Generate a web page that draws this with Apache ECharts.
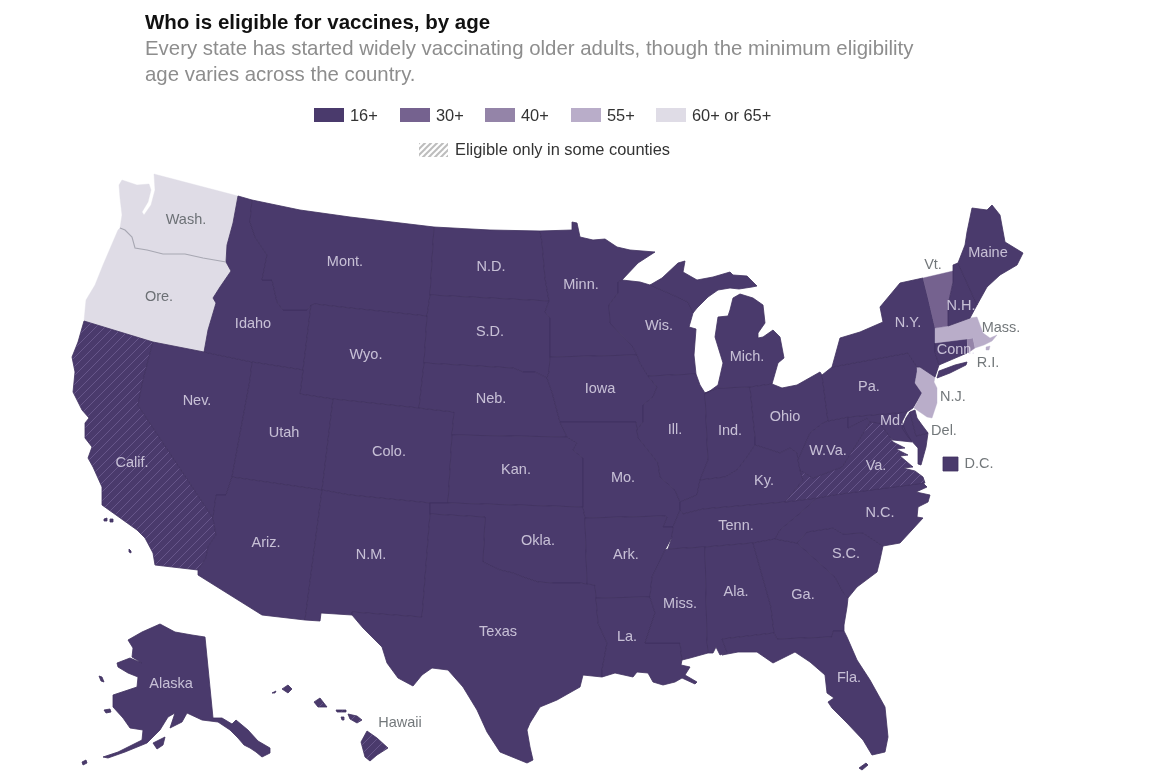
<!DOCTYPE html>
<html><head><meta charset="utf-8">
<style>html,body{margin:0;padding:0;background:#fff}#c{width:1151px;height:773px}</style>
<script src="https://cdn.jsdelivr.net/npm/echarts@6/dist/echarts.min.js"></script>
</head><body><div id="c"></div>
<script>
// ---- data ----
const ageBuckets = ['16+','30+','40+','55+','60+ or 65+'];
const stateNames = ['Washington','Oregon','California','Nevada','Idaho','Montana','Wyoming','Utah','Arizona','Colorado','New Mexico','North Dakota','South Dakota','Nebraska','Kansas','Oklahoma','Texas','Minnesota','Iowa','Missouri','Arkansas','Louisiana','Wisconsin','Illinois','Indiana','Michigan','Ohio','Kentucky','Tennessee','Mississippi','Alabama','Georgia','Florida','South Carolina','North Carolina','Virginia','West Virginia','Maryland','Delaware','Pennsylvania','New Jersey','New York','Connecticut','Rhode Island','Massachusetts','Vermont','New Hampshire','Maine','Alaska','Hawaii','District of Columbia'];
const stateAges  = ['60+ or 65+','60+ or 65+','16+','16+','16+','16+','16+','16+','16+','16+','16+','16+','16+','16+','16+','16+','16+','16+','16+','16+','16+','16+','16+','16+','16+','16+','16+','16+','16+','16+','16+','16+','16+','16+','16+','16+','16+','16+','16+','16+','55+','16+','16+','40+','55+','30+','16+','16+','16+','16+','16+'];
const someCounties = ['California','Virginia','Hawaii'];
const labelTexts = ['Wash.','Ore.','Calif.','Nev.','Idaho','Mont.','Wyo.','Utah','Ariz.','Colo.','N.M.','N.D.','S.D.','Neb.','Kan.','Okla.','Texas','Minn.','Iowa','Mo.','Ark.','La.','Wis.','Ill.','Ind.','Mich.','Ohio','Ky.','Tenn.','Miss.','Ala.','Ga.','Fla.','S.C.','N.C.','Va.','W.Va.','Md.','Del.','Pa.','N.J.','N.Y.','Conn.','R.I.','Mass.','Vt.','N.H.','Maine','Alaska','Hawaii','D.C.'];
const outsideLabels = ['Wash.','Ore.','Del.','N.J.','R.I.','Mass.','Vt.','Hawaii','D.C.'];
const bucketColors = ['#4a3a6c','#75628f','#9484a8','#b9adc9','#dfdce6'];

// ---- map outline (shape of the base map, in picture units) ----
const WA_OR=[[120,228],[125,230],[132,237],[135,248],[147,250],[163,254],[185,254],[203,258],[226,262]];
const ID_MT=[[252,200],[250,222],[255,237],[267,255],[262,280],[272,280],[277,302],[283,310],[307,310],[311,305],[315,304]];
const OK_TX=[[580,583],[553,583],[538,582],[523,577],[513,573],[500,570],[483,562]];
const shapes={
'Washington':[[[122,180],[119,185],[120,198],[122,215],...WA_OR,[227,245],[233,223],[238,196],[154,174],[155,190],[151,205],[144,215],[142,212],[148,202],[151,190],[149,184],[137,185]]],
'Oregon':[[...WA_OR,[231,271],[220,287],[213,298],[216,303],[208,330],[204,352],[153,342],[84,321],[86,300],[95,285],[103,265],[118,230]]],
'California':[[[84,321],[153,342],[143,380],[138,405],[213,518],[216,535],[208,547],[206,558],[198,570],[155,565],[153,553],[145,538],[137,530],[123,520],[102,505],[102,487],[93,467],[88,458],[92,447],[85,438],[85,423],[89,418],[82,410],[73,392],[75,372],[72,357],[78,342]],[[104,519],[107,518],[107,521],[104,521]],[[110,519],[113,519],[113,522],[110,522]],[[129,549],[131,551],[131,553],[129,552]]],
'Nevada':[[[153,342],[204,352],[252,362],[250,380],[232,477],[226,495],[216,495],[213,518],[138,405],[143,380]]],
'Idaho':[[[238,196],...ID_MT.slice(0,10),[303,370],[252,362],[204,352],[208,330],[216,303],[213,298],[220,287],[231,271],[226,262],[227,245],[233,223]]],
'Montana':[[...ID_MT,[350,308],[427,316],[430,295],[434,227],[350,217],[300,210]]],
'Wyoming':[[[311,305],[315,304],[350,308],[427,316],[424,363],[419,408],[333,399],[300,394],[303,370]]],
'Utah':[[[252,362],[303,370],[300,394],[333,399],[322,490],[232,477],[250,380]]],
'Arizona':[[[232,477],[322,490],[305,620],[262,615],[198,575],[198,570],[206,558],[208,547],[216,535],[213,518],[216,495],[226,495]]],
'Colorado':[[[333,399],[419,408],[454,412],[452,435],[448,503],[430,503],[350,495],[322,490]]],
'New Mexico':[[[322,490],[350,495],[430,503],[430,514],[422,617],[352,612],[352,615],[321,613],[320,621],[305,620]]],
'North Dakota':[[[434,227],[490,230],[540,231],[542,242],[545,278],[549,301],[430,295]]],
'South Dakota':[[[430,295],[549,301],[545,312],[550,318],[550,357],[549,372],[547,378],[535,372],[523,372],[513,368],[424,363],[427,316]]],
'Nebraska':[[[424,363],[513,368],[523,372],[535,372],[547,378],[552,392],[560,422],[567,437],[452,435],[454,412],[419,408]]],
'Kansas':[[[452,435],[567,437],[577,443],[573,450],[583,458],[583,507],[448,503]]],
'Oklahoma':[[[430,503],[448,503],[583,507],[585,518],[587,584],...OK_TX,[485,517],[430,514]]],
'Texas':[[[430,514],[485,517],...OK_TX.slice().reverse(),[587,584],[595,585],[596,598],[598,623],[607,643],[602,670],[602,677],[583,675],[580,687],[557,700],[540,707],[530,723],[527,730],[530,747],[533,760],[527,763],[500,752],[487,732],[477,710],[463,687],[448,670],[432,668],[422,675],[413,686],[398,678],[387,663],[382,647],[363,628],[352,615],[352,612],[422,617]]],
'Minnesota':[[[540,231],[572,230],[572,222],[577,223],[580,237],[593,240],[605,239],[617,247],[630,250],[655,252],[638,263],[622,280],[618,282],[618,293],[609,305],[610,323],[633,347],[637,355],[550,357],[550,318],[545,312],[549,301],[545,278],[542,242]]],
'Iowa':[[[550,357],[637,355],[640,363],[648,376],[657,387],[653,397],[643,405],[643,422],[637,430],[636,422],[560,422],[552,392],[547,378],[549,372]]],
'Missouri':[[[560,422],[636,422],[637,430],[638,438],[640,440],[652,455],[658,463],[660,477],[675,490],[680,502],[680,510],[673,527],[663,527],[667,517],[665,516],[585,518],[583,507],[583,458],[573,450],[577,443],[567,437]]],
'Arkansas':[[[585,518],[665,516],[667,517],[663,527],[673,527],[672,537],[665,550],[652,577],[650,597],[596,598],[595,585],[587,584]]],
'Louisiana':[[[596,598],[650,597],[655,613],[645,643],[680,643],[682,660],[681,665],[690,667],[685,675],[697,682],[695,684],[682,678],[675,682],[663,685],[653,682],[648,673],[637,672],[633,677],[615,673],[602,677],[602,670],[607,643],[598,623]]],
'Wisconsin':[[[622,280],[640,282],[650,285],[673,295],[688,302],[693,313],[689,327],[696,329],[694,355],[696,374],[648,376],[640,363],[637,355],[633,347],[610,323],[609,305],[618,293],[618,282]]],
'Illinois':[[[648,376],[696,374],[700,385],[705,393],[707,440],[708,460],[700,480],[697,495],[680,502],[675,490],[660,477],[658,463],[652,455],[640,440],[638,438],[637,430],[643,422],[643,405],[653,397],[657,387]]],
'Indiana':[[[705,393],[718,388],[750,387],[755,437],[755,445],[747,457],[737,470],[725,477],[700,480],[708,460],[707,440]]],
'Michigan':[[[650,285],[673,295],[688,302],[693,313],[697,308],[708,297],[718,290],[730,288],[739,289],[752,287],[757,286],[747,276],[733,275],[730,272],[713,277],[697,280],[683,272],[685,261],[678,263],[662,278]],[[705,393],[707,393],[718,385],[723,363],[715,337],[718,317],[728,316],[730,310],[733,298],[740,294],[753,298],[763,305],[765,323],[758,333],[758,338],[763,337],[773,330],[780,337],[784,358],[778,363],[772,384],[750,387],[718,388]]],
'Ohio':[[[750,387],[772,384],[782,388],[797,385],[820,372],[822,375],[828,421],[823,423],[810,433],[798,460],[797,453],[790,448],[780,453],[755,445],[755,437]]],
'Kentucky':[[[683,514],[703,509],[785,502],[803,480],[800,470],[798,460],[797,453],[790,448],[780,453],[755,445],[747,457],[737,470],[725,477],[700,480],[697,495],[680,502],[680,510]]],
'Tennessee':[[[683,514],[703,509],[785,502],[817,498],[798,515],[780,530],[775,539],[753,543],[705,547],[668,549],[672,537],[673,527],[680,510]]],
'Mississippi':[[[668,549],[705,547],[707,640],[708,653],[690,658],[682,660],[680,643],[645,643],[655,613],[650,597],[652,577],[665,550]]],
'Alabama':[[[705,547],[753,543],[771,607],[774,633],[722,639],[727,652],[720,655],[716,647],[713,653],[708,653],[707,640]]],
'Georgia':[[[753,543],[775,539],[797,543],[805,550],[835,577],[843,592],[848,598],[847,607],[844,625],[844,631],[833,631],[832,637],[777,639],[774,633],[771,607]]],
'Florida':[[[722,639],[774,633],[777,639],[832,637],[833,631],[844,631],[847,637],[857,660],[870,680],[885,707],[888,737],[885,752],[872,755],[863,740],[847,723],[842,718],[832,708],[828,702],[834,698],[827,693],[825,675],[810,662],[795,652],[773,663],[757,652],[738,652],[722,655],[727,652]],[[859,768],[866,763],[868,765],[862,770]]],
'South Carolina':[[[797,543],[807,532],[833,528],[843,534],[863,533],[883,546],[880,560],[877,572],[857,587],[848,598],[843,592],[835,577],[805,550]]],
'North Carolina':[[[775,539],[780,530],[798,515],[817,498],[833,495],[923,483],[927,487],[916,492],[930,495],[928,502],[918,507],[917,517],[923,518],[912,530],[900,543],[883,546],[863,533],[843,534],[833,528],[807,532],[797,543]]],
'Virginia':[[[785,502],[803,480],[800,470],[813,478],[842,467],[870,422],[880,423],[890,437],[893,442],[905,448],[896,449],[908,455],[900,456],[913,467],[903,468],[915,471],[923,477],[925,483],[833,495],[817,498]]],
'West Virginia':[[[828,421],[848,417],[848,428],[867,418],[870,422],[842,467],[813,478],[800,470],[798,460],[810,433],[823,423]]],
'Maryland':[[[848,417],[907,412],[902,422],[905,430],[912,442],[893,440],[890,437],[880,423],[870,422],[867,418],[848,428]],[[910,412],[916,436],[928,433],[926,447],[921,465],[918,464],[918,448],[908,437],[902,428],[906,418]]],
'Delaware':[[[910,412],[915,410],[917,418],[922,425],[928,433],[916,436]]],
'Pennsylvania':[[[822,375],[832,367],[908,353],[917,367],[917,372],[915,383],[922,393],[913,408],[907,412],[848,417],[828,421]]],
'New Jersey':[[[917,367],[920,367],[935,377],[934,382],[937,388],[937,403],[932,418],[927,417],[914,408],[922,393],[915,383],[917,372]]],
'New York':[[[832,367],[840,338],[860,332],[883,322],[880,307],[900,283],[923,278],[928,298],[935,328],[935,352],[939,365],[935,377],[920,367],[917,367],[908,353]],[[937,378],[939,371],[955,365],[967,362],[966,365],[950,373]]],
'Connecticut':[[[935,343],[967,339],[967,353],[939,365],[935,352]]],
'Rhode Island':[[[967,339],[973,338],[975,348],[968,353],[967,353]]],
'Massachusetts':[[[935,328],[948,326],[970,318],[977,317],[980,325],[983,333],[990,338],[997,335],[992,341],[984,345],[975,348],[973,338],[967,339],[935,343]],[[986,347],[990,346],[989,350],[986,350]]],
'Vermont':[[[923,278],[953,271],[953,282],[948,305],[948,326],[935,328],[928,298]]],
'New Hampshire':[[[953,271],[953,265],[958,263],[977,305],[970,318],[948,326],[948,305],[953,282]]],
'Maine':[[[958,263],[965,245],[967,232],[972,208],[987,210],[992,205],[1000,215],[1005,242],[1023,253],[1017,265],[1000,275],[987,287],[977,305]]],
'Alaska':[[[205,637],[213,718],[222,718],[232,724],[236,720],[248,730],[258,741],[270,748],[270,753],[262,757],[256,752],[250,748],[244,745],[238,738],[230,730],[218,722],[202,720],[187,713],[182,722],[170,728],[175,713],[168,717],[160,730],[147,743],[125,752],[108,758],[103,757],[118,752],[142,740],[143,730],[130,728],[123,718],[113,707],[113,695],[137,687],[138,677],[128,673],[118,667],[117,663],[130,658],[142,663],[132,657],[133,648],[128,640],[142,632],[160,624],[175,632],[192,635]],[[153,743],[165,737],[163,745],[157,749]],[[104,710],[110,709],[111,712],[106,713]],[[99,676],[102,677],[104,682],[101,681]],[[82,762],[86,760],[87,763],[83,765]]],
'Hawaii':[[[367,731],[377,738],[388,748],[377,755],[370,761],[365,757],[361,742]],[[348,714],[357,716],[362,720],[357,723],[350,719]],[[336,710],[346,710],[346,712],[337,712]],[[341,717],[344,717],[344,720],[342,720]],[[314,702],[320,698],[327,707],[318,707]],[[282,689],[288,685],[292,689],[288,693]],[[272,693],[276,691],[275,693]]],
'District of Columbia':[[[943,457],[958,457],[958,471],[943,471]]]
};
const labelAnchors={'Wash.':[186,220],'Ore.':[159,297],'Calif.':[132,463],'Nev.':[197,401],'Idaho':[253,324],'Mont.':[345,262],'Wyo.':[366,355],'Utah':[284,433],'Ariz.':[266,543],'Colo.':[389,452],'N.M.':[371,555],'N.D.':[491,267],'S.D.':[490,332],'Neb.':[491,399],'Kan.':[516,470],'Okla.':[538,541],'Texas':[498,632],'Minn.':[581,285],'Iowa':[600,389],'Mo.':[623,478],'Ark.':[626,555],'La.':[627,637],'Wis.':[659,326],'Ill.':[675,430],'Ind.':[730,431],'Mich.':[747,357],'Ohio':[785,417],'Ky.':[764,481],'Tenn.':[736,526],'Miss.':[680,604],'Ala.':[736,592],'Ga.':[803,595],'Fla.':[849,678],'S.C.':[846,554],'N.C.':[880,513],'Va.':[876,466],'W.Va.':[828,451],'Md.':[892,421],'Del.':[944,431],'Pa.':[869,387],'N.J.':[953,397],'N.Y.':[908,323],'Conn.':[956,350],'R.I.':[988,363],'Mass.':[1001,328],'Vt.':[933,265],'N.H.':[961,306],'Maine':[988,253],'Alaska':[171,684],'Hawaii':[400,723],'D.C.':[979,464]};

// ---- build ----
const flip=rings=>rings.map(r=>{const q=r.map(p=>[p[0],-p[1]]);q.push(q[0]);return [q];});
const geojson={type:'FeatureCollection',features:stateNames.map(n=>({type:'Feature',properties:{name:n},geometry:{type:'MultiPolygon',coordinates:flip(shapes[n])}}))};
echarts.registerMap('usa',geojson);

function hatch(bg,line,s,w){
  const c=document.createElement('canvas');c.width=c.height=s;
  const g=c.getContext('2d');
  if(bg){g.fillStyle=bg;g.fillRect(0,0,s,s);}
  g.strokeStyle=line;g.lineWidth=w;
  [[-s,s,s,-s],[0,s,s,0],[0,2*s,2*s,0]].forEach(a=>{g.beginPath();g.moveTo(a[0],a[1]);g.lineTo(a[2],a[3]);g.stroke();});
  return {image:c,repeat:'repeat'};
}
const regions=stateNames.map((n,i)=>{
  const base=bucketColors[ageBuckets.indexOf(stateAges[i])];
  const light=stateAges[i]!=='16+';
  return {name:n,itemStyle:{
    areaColor:someCounties.includes(n)?hatch(base,'#67568a',9,1):base,
    borderColor:light?base:'#40315f',borderWidth:light?0.4:0.8},
    emphasis:{disabled:true}};
});
const labels=labelTexts.map(t=>({name:t,value:labelAnchors[t].map((v,i)=>i?-v:v),
  label:{color:outsideLabels.includes(t)?'#4f5559':'#e6e1f0'}}));

const legendXs=[314,400,485,571,656];
const gfx=[];
ageBuckets.forEach((b,i)=>{
  gfx.push({type:'rect',left:legendXs[i],top:108,shape:{width:30,height:14},style:{fill:bucketColors[i]}});
  gfx.push({type:'text',left:legendXs[i]+36,top:108,style:{text:b,fill:'#333',font:'16.4px "Liberation Sans",sans-serif'}});
});
gfx.push({type:'rect',left:419,top:143,shape:{width:29,height:14},style:{fill:hatch('#fff','#bdbdbd',6,2)}});
gfx.push({type:'text',left:455,top:142,style:{text:'Eligible only in some counties',fill:'#333',font:'16.4px "Liberation Sans",sans-serif'}});

const chart=echarts.init(document.getElementById('c'),null,{renderer:'canvas'});
chart.setOption({
  animation:false,backgroundColor:'#fff',
  title:{left:145,top:13,padding:0,itemGap:2,
    text:'Who is eligible for vaccines, by age',
    textStyle:{fontFamily:'Liberation Sans',fontSize:20.5,fontWeight:700,color:'#111'},
    subtext:'Every state has started widely vaccinating older adults, though the minimum eligibility\nage varies across the country.',
    subtextStyle:{fontFamily:'Liberation Sans',fontSize:20.4,color:'#8d8d8d',lineHeight:26}},
  graphic:gfx,
  geo:{map:'usa',silent:true,roam:false,aspectScale:1,left:0,top:0,width:1151,height:773,
    boundingCoords:[[0,0],[1151,-773]],
    itemStyle:{areaColor:bucketColors[0],borderColor:'#40315f',borderWidth:0.8},
    label:{show:false},emphasis:{disabled:true},regions},
  series:[
    {type:'lines',coordinateSystem:'geo',polyline:true,silent:true,
      lineStyle:{color:'#a7a7b2',width:1.1,opacity:1},
      data:[{coords:WA_OR.map(p=>[p[0],-p[1]])}]},
    {type:'scatter',coordinateSystem:'geo',symbolSize:1,silent:true,
      itemStyle:{color:'transparent'},
      label:{show:true,position:'inside',formatter:'{b}',fontFamily:'Liberation Sans',fontSize:14.5,offset:[0,2]},
      labelLayout:{hideOverlap:false},
      data:labels}
  ]
});
</script></body></html>
